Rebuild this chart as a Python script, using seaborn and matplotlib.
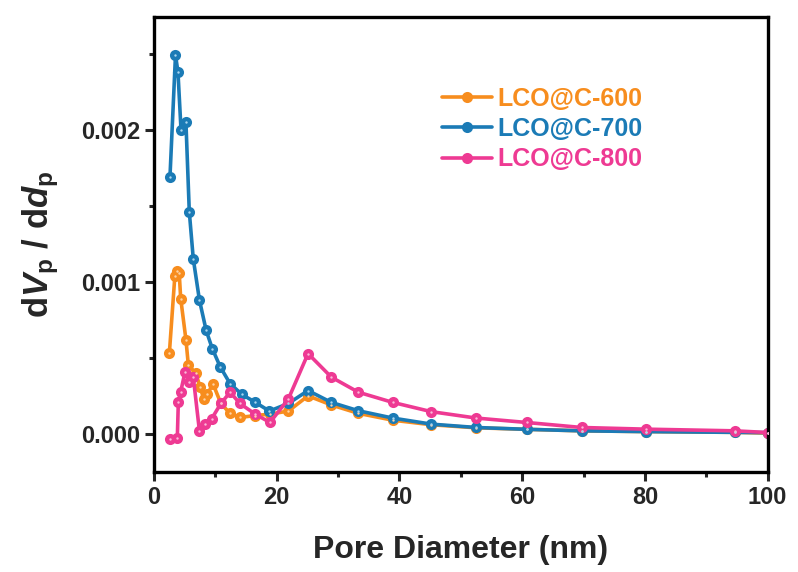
import numpy as np
import pandas as pd
import matplotlib
matplotlib.use("Agg")
import matplotlib.pyplot as plt
import seaborn as sns
from matplotlib.lines import Line2D
from matplotlib.ticker import MultipleLocator

# ---- data ----
series_names = ["LCO@C-600", "LCO@C-700", "LCO@C-800"]

x600 = [2.5, 3.4, 3.7, 4.1, 4.35, 5.2, 5.6, 6.8, 7.5, 8.1, 8.7, 9.6, 10.9, 12.4, 14.0,
        16.4, 18.9, 21.9, 25.1, 28.9, 33.3, 38.9, 45.2, 52.5, 60.7, 69.7, 80.2, 94.6, 100]
y600 = [0.00053, 0.00104, 0.00107, 0.00106, 0.00089, 0.00062, 0.00045, 0.00040, 0.00031,
        0.00023, 0.00026, 0.00033, 0.00020, 0.000134, 0.000108, 0.00012, 0.00013, 0.00015,
        0.00025, 0.00019, 0.000135, 0.00009, 0.00006, 0.00004, 0.00003, 0.00002, 0.000015,
        0.00001, 0.000005]

x700 = [2.6, 3.5, 3.9, 4.4, 5.2, 5.75, 6.4, 7.4, 8.5, 9.5, 10.8, 12.4, 14.3, 16.4, 18.8,
        21.9, 25.1, 28.9, 33.3, 38.9, 45.2, 52.5, 60.7, 69.7, 80.2, 94.6, 100]
y700 = [0.00169, 0.00249, 0.00238, 0.00200, 0.00205, 0.00146, 0.00115, 0.00088, 0.00068,
        0.00056, 0.00044, 0.00033, 0.00026, 0.00021, 0.00015, 0.00020, 0.000285, 0.000207,
        0.000152, 0.000104, 0.000064, 0.000042, 0.00003, 0.00002, 0.000015, 0.00001, 0.000008]

x800 = [2.6, 3.8, 3.96, 4.35, 5.05, 5.75, 6.4, 7.4, 8.3, 9.4, 10.9, 12.4, 14.0, 16.4, 18.9,
        21.9, 25.1, 28.9, 33.3, 38.9, 45.2, 52.5, 60.7, 69.7, 80.2, 94.6, 100]
y800 = [-0.000033, -0.000024, 0.000207, 0.000278, 0.000406, 0.00034, 0.000373, 0.00002,
        0.000066, 0.0001, 0.0002, 0.000274, 0.0002, 0.000132, 0.000075, 0.00023, 0.000528,
        0.000373, 0.000274, 0.000207, 0.000146, 0.000104, 0.000075, 0.000042, 0.000031,
        0.00002, 0.000009]

x_ticks = [0, 20, 40, 60, 80, 100]
y_ticks = [0.000, 0.001, 0.002]

colors = {"LCO@C-600": "#F78D1E", "LCO@C-700": "#1B7BB6", "LCO@C-800": "#EE3A93"}
light = {"LCO@C-600": "#FDD3A5", "LCO@C-700": "#A8D5F0", "LCO@C-800": "#FBB9D8"}

df = pd.concat([
    pd.DataFrame({"x": x600, "y": y600, "s": "LCO@C-600"}),
    pd.DataFrame({"x": x700, "y": y700, "s": "LCO@C-700"}),
    pd.DataFrame({"x": x800, "y": y800, "s": "LCO@C-800"}),
], ignore_index=True)

sns.set_style("ticks")
plt.rcParams["font.family"] = ["Liberation Sans", "DejaVu Sans"]
plt.rcParams["font.weight"] = "bold"
plt.rcParams["mathtext.fontset"] = "custom"
plt.rcParams["mathtext.rm"] = "Liberation Sans:bold"
plt.rcParams["mathtext.it"] = "Liberation Sans:italic:bold"
plt.rcParams["mathtext.bf"] = "Liberation Sans:bold"

fig = plt.figure(figsize=(7.98, 5.72), dpi=100)
ax = fig.add_axes([0.193, 0.175, 0.769, 0.795])

for name in series_names:
    sub = df[df["s"] == name]
    sns.lineplot(data=sub, x="x", y="y", ax=ax, color=colors[name], sort=False,
                 estimator=None, linewidth=2.6, marker="o", markersize=8,
                 markeredgewidth=0, legend=False)
    sns.scatterplot(data=sub, x="x", y="y", ax=ax, color=light[name], s=3,
                    linewidth=0, legend=False, zorder=5)

ax.set_xlim(0, 100)
ax.set_ylim(-0.00025, 0.00274)
ax.set_xticks(x_ticks)
ax.set_yticks(y_ticks)
ax.set_yticklabels([f"{v:.3f}" for v in y_ticks])
ax.xaxis.set_minor_locator(MultipleLocator(10))
ax.yaxis.set_minor_locator(MultipleLocator(0.0005))
ax.tick_params(which="major", direction="out", length=6.5, width=2.2, labelsize=17,
               pad=3.5, top=False, right=False)
ax.tick_params(which="minor", direction="out", length=3.5, width=2.2, top=False, right=False)
for sp in ax.spines.values():
    sp.set_linewidth(2.4)
    sp.set_visible(True)
    sp.set_color("black")

ax.set_xlabel("Pore Diameter (nm)", fontsize=23, fontweight="bold", labelpad=19)
ax.set_ylabel(r"d$V_{\mathrm{p}}$ / d$d_{\mathrm{p}}$", fontsize=25, fontweight="bold", labelpad=14)

handles = [Line2D([0], [0], color=colors[n], lw=2.6, marker="o", markersize=8,
                  markeredgewidth=0) for n in series_names]
leg = ax.legend(handles, series_names, loc="upper left", bbox_to_anchor=(0.44, 0.885),
                frameon=False, fontsize=18, handlelength=2.0, handletextpad=0.25,
                labelspacing=0.25, borderpad=0.2)
for t, n in zip(leg.get_texts(), series_names):
    t.set_color(colors[n])
    t.set_fontweight("bold")

fig.savefig("out.png", dpi=100)
